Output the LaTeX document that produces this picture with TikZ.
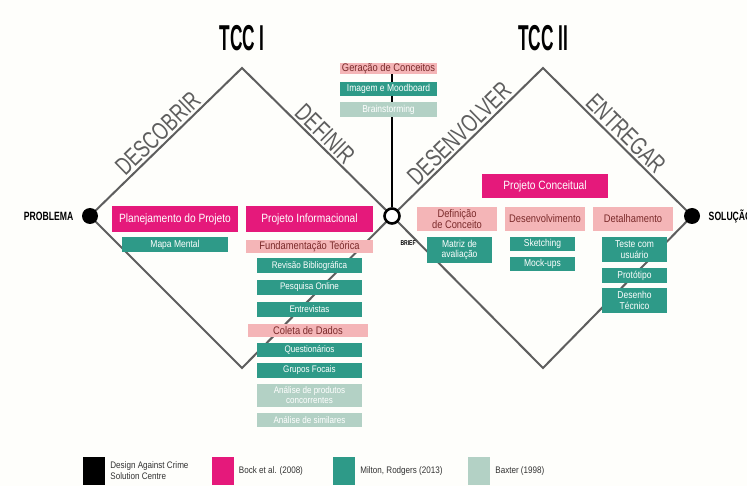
\documentclass[tikz,border=0pt]{standalone}
\usepackage{fontspec}
\usepackage{graphicx}
\setmainfont{Liberation Sans}
\newfontfamily\cond[FakeStretch=0.85]{Liberation Sans}
\newfontfamily\estreito[FakeStretch=0.72]{Liberation Sans}
\newfontfamily\titulo[FakeStretch=0.48]{Liberation Sans}
\usetikzlibrary{positioning,backgrounds}

\definecolor{bock}{HTML}{E5197B}
\definecolor{milton}{HTML}{2E9A88}
\definecolor{fase}{HTML}{F4B5B7}
\definecolor{baxter}{HTML}{B3D1C5}
\definecolor{linha}{HTML}{5E5E5E}
\definecolor{textofase}{HTML}{7A2A2A}
\definecolor{fundo}{HTML}{FEFEFB}

\newcommand{\fasetxt}[1]{\scalebox{0.72}[1]{#1}}

\tikzset{
  sz/.style 2 args={minimum width=#1pt, minimum height=#2pt},
  caixa/.style={inner sep=0pt, align=center, font=\cond\fontsize{10}{10.5}\selectfont},
  back/.style={caixa, fill=bock, text=white, font=\cond\fontsize{12}{12}\selectfont},
  milt/.style={caixa, fill=milton, text=white},
  etapa/.style={caixa, fill=fase, text=textofase, font=\cond\fontsize{11}{11}\selectfont},
  baxt/.style={caixa, fill=baxter, text=white},
  miudo/.style={font=\cond\fontsize{9.5}{10}\selectfont},
  ponto/.style={circle, fill=black, minimum size=16pt, inner sep=0pt},
  losango/.style={draw=linha, line width=2pt, line join=miter},
  faselbl/.style={sloped, above, pos=0.5, inner sep=2pt, text=linha,
    font=\fontsize{25}{25}\selectfont},
  extremo/.style={font=\estreito\bfseries\fontsize{12}{12}\selectfont},
  legsq/.style={minimum width=22pt, minimum height=28pt, inner sep=0pt},
  legtxt/.style={align=left, inner sep=0pt, text=black!80,
    font=\cond\fontsize{9.5}{11}\selectfont}
}

\begin{document}
\begin{tikzpicture}[x=1pt,y=-1pt]
\useasboundingbox (0,0) rectangle (747,486);

\node[font=\titulo\bfseries\fontsize{36}{36}\selectfont] (tcc1) at (242,38) {TCC I};
\node[font=\titulo\bfseries\fontsize{36}{36}\selectfont] (tcc2) at (543,38) {TCC II};

\node[ponto] (prob) at (90,216) {};
\node[circle, draw=black, fill=white, line width=2.6pt, minimum size=15pt, inner sep=0pt] (brief) at (392,216) {};
\node[ponto] (sol) at (692,216) {};
\coordinate (topo1) at (242,68);
\coordinate (base1) at (242,368);
\coordinate (topo2) at (543,68);
\coordinate (base2) at (543,368);

\node[extremo, left=5pt of prob] (lprob) {PROBLEMA};
\node[extremo, right=5pt of sol] (lsol) {SOLUÇÃO};
\node[extremo, font=\estreito\bfseries\fontsize{7}{7}\selectfont, anchor=north west] (lbrief) at (397,237) {BRIEF};

% caixas do topo
\node[etapa, sz={97}{11}] (gera) at (388.5,68.5) {Geração de Conceitos};
\node[milt, sz={97}{14}] (imag) at (388.5,89) {Imagem e Moodboard};
\node[baxt, sz={97}{15}] (brain) at (388.5,109.5) {Brainstorming};

% TCC I
\node[back, sz={126}{26}] (plan) at (175,219) {Planejamento do Projeto};
\node[milt, sz={106}{15}] (mapa) at (175,244.5) {Mapa Mental};
\node[back, sz={127}{26}] (pinf) at (309.5,219) {Projeto Informacional};
\node[etapa, sz={127}{13}] (fund) at (309.5,246.5) {Fundamentação Teórica};
\node[milt, miudo, sz={105}{15}] (rev) at (309.5,265.5) {Revisão Bibliográfica};
\node[milt, miudo, sz={105}{15}] (pesq) at (309.5,287.5) {Pesquisa Online};
\node[milt, miudo, sz={105}{15}] (entr) at (309.5,309.5) {Entrevistas};
\node[etapa, sz={120}{13}] (colet) at (308,330.5) {Coleta de Dados};
\node[milt, miudo, sz={105}{14}] (quest) at (309.5,350) {Questionários};
\node[milt, miudo, sz={105}{15}] (grupo) at (309.5,370.5) {Grupos Focais};
\node[baxt, miudo, sz={105}{23}] (simil) at (309.5,395.5) {Análise de produtos\\concorrentes};
\node[baxt, miudo, sz={105}{14}] (contx) at (309.5,420) {Análise de similares};

% TCC II
\node[back, sz={126}{24}] (pconc) at (545,186) {Projeto Conceitual};
\node[etapa, sz={80}{24}] (defc) at (457,219) {Definição\\de Conceito};
\node[etapa, sz={80}{24}] (desv) at (545,219) {Desenvolvimento};
\node[etapa, sz={80}{24}] (detal) at (633,219) {Detalhamento};
\node[milt, sz={65}{26}] (matr) at (459.5,250) {Matriz de\\avaliação};
\node[milt, sz={65}{14}] (sketch) at (542.5,244) {Sketching};
\node[milt, sz={65}{14}] (mock) at (542.5,264) {Mock-ups};
\node[milt, sz={65}{25}] (teste) at (634.5,249.5) {Teste com\\usuário};
\node[milt, sz={65}{15}] (prot) at (634.5,275.5) {Protótipo};
\node[milt, sz={65}{25}] (desen) at (634.5,300.5) {Desenho\\Técnico};

% legenda
\node[legsq, fill=black] (lg1) at (94,471) {};
\node[legtxt, right=5pt of lg1] (lt1) {Design Against Crime\\Solution Centre};
\node[legsq, fill=bock] (lg2) at (222.5,471) {};
\node[legtxt, right=5pt of lg2] (lt2) {Bock et al. (2008)};
\node[legsq, fill=milton] (lg3) at (344,471) {};
\node[legtxt, right=5pt of lg3] (lt3) {Milton, Rodgers (2013)};
\node[legsq, fill=baxter] (lg4) at (479,471) {};
\node[legtxt, right=5pt of lg4] (lt4) {Baxter (1998)};

\begin{pgfonlayer}{background}
\fill[fundo] (0,0) rectangle (747,486);
\draw[losango] (prob.center) -- node[faselbl] {\fasetxt{DESCOBRIR}} (topo1)
  -- node[faselbl] {\fasetxt{DEFINIR}} (brief.center) -- (base1) -- cycle;
\draw[losango] (brief.center) -- node[faselbl] {\fasetxt{DESENVOLVER}} (topo2)
  -- node[faselbl] {\fasetxt{ENTREGAR}} (sol.center) -- (base2) -- cycle;
\draw[line width=2.6pt] (brief) -- (brief |- gera.center);
\end{pgfonlayer}
\end{tikzpicture}
\end{document}
